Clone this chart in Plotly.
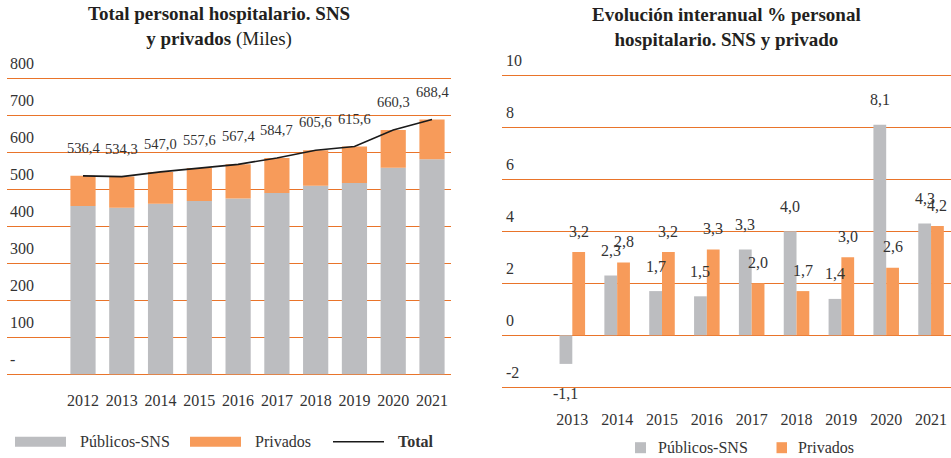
import plotly.graph_objects as go

# ---------------- data ----------------
years_total = ["2012", "2013", "2014", "2015", "2016", "2017", "2018", "2019", "2020", "2021"]
publicos_miles = [454.9, 450.3, 461.0, 468.5, 475.0, 490.0, 509.5, 517.0, 558.5, 581.5]
privados_miles = [81.5, 84.0, 86.0, 89.1, 92.4, 94.7, 96.1, 98.6, 101.8, 106.9]
total_miles = [536.4, 534.3, 547.0, 557.6, 567.4, 584.7, 605.6, 615.6, 660.3, 688.4]
left_ticks = [0, 100, 200, 300, 400, 500, 600, 700, 800]
left_ticktext = ["-", "100", "200", "300", "400", "500", "600", "700", "800"]

years_var = ["2013", "2014", "2015", "2016", "2017", "2018", "2019", "2020", "2021"]
var_publicos = [-1.1, 2.3, 1.7, 1.5, 3.3, 4.0, 1.4, 8.1, 4.3]
var_privados = [3.2, 2.8, 3.2, 3.3, 2.0, 1.7, 3.0, 2.6, 4.2]
right_ticks = [-2, 0, 2, 4, 6, 8, 10]
right_ticktext = ["-2", "0", "2", "4", "6", "8", "10"]

# ---------------- style ----------------
W, H = 951, 458
GRAY = "#BCBDC0"
ORANGE = "#F79B5A"
GRID = "#E9742A"
TXT = "#333333"
FONT = "Liberation Serif"


def fmt(v):
    return f"{v:.1f}".replace(".", ",")


def px_x(p):
    return p / W


def px_y(p):
    return 1 - p / H


pos_total = list(range(len(years_total)))
pos_var = list(range(len(years_var)))

fig = go.Figure()

# ---- left chart: stacked bars + total line ----
LW = 0.65
fig.add_trace(go.Bar(x=pos_total, y=publicos_miles, width=LW, offset=-LW / 2,
                     marker=dict(color=GRAY, line=dict(width=0)), name="Públicos-SNS",
                     xaxis="x", yaxis="y", showlegend=False))
fig.add_trace(go.Bar(x=pos_total, y=privados_miles, base=publicos_miles, width=LW, offset=-LW / 2,
                     marker=dict(color=ORANGE, line=dict(width=0)), name="Privados",
                     xaxis="x", yaxis="y", showlegend=False))
fig.add_trace(go.Scatter(x=pos_total, y=total_miles, mode="lines",
                         line=dict(color="#1a1a1a", width=1.6), name="Total",
                         xaxis="x", yaxis="y", showlegend=False))

# ---- right chart: grouped bars ----
RW = 0.285
fig.add_trace(go.Bar(x=pos_var, y=var_publicos, width=RW, offset=-RW,
                     marker=dict(color=GRAY, line=dict(width=0)), name="Públicos-SNS",
                     xaxis="x2", yaxis="y2", showlegend=False))
fig.add_trace(go.Bar(x=pos_var, y=var_privados, width=RW, offset=0,
                     marker=dict(color=ORANGE, line=dict(width=0)), name="Privados",
                     xaxis="x2", yaxis="y2", showlegend=False))

annotations = []
tickfont = dict(family=FONT, size=16, color=TXT)

# left value labels
for i, v in zip(pos_total, total_miles):
    annotations.append(dict(x=i, y=v, xref="x", yref="y", text=fmt(v), showarrow=False,
                            yshift=28, yanchor="middle",
                            font=dict(family=FONT, size=14.5, color=TXT)))

# right value labels
for i, v in zip(pos_var, var_publicos):
    annotations.append(dict(x=i - RW / 2, y=v, xref="x2", yref="y2", text=fmt(v), showarrow=False,
                            yshift=25 if v >= 0 else -30, yanchor="middle",
                            font=dict(family=FONT, size=16, color=TXT)))
for i, v in zip(pos_var, var_privados):
    annotations.append(dict(x=i + RW / 2, y=v, xref="x2", yref="y2", text=fmt(v), showarrow=False,
                            yshift=21 if v >= 0 else -30, yanchor="middle",
                            font=dict(family=FONT, size=16, color=TXT)))

# y tick labels (sitting above their gridlines, inside the plot)
for v, t in zip(left_ticks, left_ticktext):
    annotations.append(dict(x=px_x(8), y=v, xref="paper", yref="y", text=t, showarrow=False,
                            xanchor="left", yanchor="middle", yshift=15, font=tickfont))
for v, t in zip(right_ticks, right_ticktext):
    annotations.append(dict(x=px_x(504), y=v, xref="paper", yref="y2", text=t, showarrow=False,
                            xanchor="left", yanchor="middle", yshift=14.5, font=tickfont))

# titles
annotations.append(dict(x=px_x(219), y=px_y(27), xref="paper", yref="paper", showarrow=False,
                        text="<b>Total personal hospitalario. SNS</b><br><b>y privados</b> (Miles)",
                        align="center", xanchor="center", yanchor="middle",
                        font=dict(family=FONT, size=19, color="#231f20")))
annotations.append(dict(x=px_x(726.5), y=px_y(27), xref="paper", yref="paper", showarrow=False,
                        text="<b>Evolución interanual % personal</b><br><b>hospitalario. SNS y privado</b>",
                        align="center", xanchor="center", yanchor="middle",
                        font=dict(family=FONT, size=19, color="#231f20")))

# manual legends
shapes = []
leg_font = dict(family=FONT, size=16, color=TXT)
ly = 441.7
shapes.append(dict(type="rect", xref="paper", yref="paper", x0=px_x(15), x1=px_x(66),
                   y0=px_y(ly + 5), y1=px_y(ly - 5), fillcolor=GRAY, line=dict(width=0)))
annotations.append(dict(x=px_x(78), y=px_y(ly), xref="paper", yref="paper", showarrow=False,
                        text="Públicos-SNS", xanchor="left", yanchor="middle", font=leg_font))
shapes.append(dict(type="rect", xref="paper", yref="paper", x0=px_x(190), x1=px_x(241),
                   y0=px_y(ly + 5), y1=px_y(ly - 5), fillcolor=ORANGE, line=dict(width=0)))
annotations.append(dict(x=px_x(253), y=px_y(ly), xref="paper", yref="paper", showarrow=False,
                        text="Privados", xanchor="left", yanchor="middle", font=leg_font))
shapes.append(dict(type="line", xref="paper", yref="paper", x0=px_x(333), x1=px_x(384),
                   y0=px_y(ly), y1=px_y(ly), line=dict(color="#1a1a1a", width=1.5)))
annotations.append(dict(x=px_x(396), y=px_y(ly), xref="paper", yref="paper", showarrow=False,
                        text="<b>Total</b>", xanchor="left", yanchor="middle", font=leg_font))

ry = 447.7
shapes.append(dict(type="rect", xref="paper", yref="paper", x0=px_x(635), x1=px_x(646),
                   y0=px_y(ry + 5.5), y1=px_y(ry - 5.5), fillcolor=GRAY, line=dict(width=0)))
annotations.append(dict(x=px_x(656), y=px_y(ry), xref="paper", yref="paper", showarrow=False,
                        text="Públicos-SNS", xanchor="left", yanchor="middle", font=leg_font))
shapes.append(dict(type="rect", xref="paper", yref="paper", x0=px_x(776.5), x1=px_x(787),
                   y0=px_y(ry + 5.5), y1=px_y(ry - 5.5), fillcolor=ORANGE, line=dict(width=0)))
annotations.append(dict(x=px_x(796), y=px_y(ry), xref="paper", yref="paper", showarrow=False,
                        text="Privados", xanchor="left", yanchor="middle", font=leg_font))

# axis ranges padded a little so edge gridlines are drawn
L_PX = 0.37      # px per unit, left chart
R_PX = 26.0      # px per unit, right chart
L_PAD = 7.0
R_PAD = 0.1

fig.update_layout(
    width=W, height=H,
    margin=dict(l=0, r=0, t=0, b=0),
    paper_bgcolor="white", plot_bgcolor="white",
    barmode="group",
    showlegend=False,
    annotations=annotations,
    shapes=shapes,
    xaxis=dict(domain=[px_x(7), px_x(451)], range=[-1.96, 9.49],
               tickvals=pos_total, ticktext=years_total,
               showgrid=False, zeroline=False, showline=False, ticks="",
               ticklabelstandoff=12, tickfont=tickfont, fixedrange=True),
    yaxis=dict(domain=[px_y(374.3 + L_PAD * L_PX), px_y(78.3 - L_PAD * L_PX)],
               range=[-L_PAD, 800 + L_PAD], tickvals=left_ticks, showticklabels=False,
               showgrid=True, gridcolor=GRID, gridwidth=1.2,
               zeroline=False, showline=False, ticks="", fixedrange=True),
    xaxis2=dict(domain=[px_x(502), 1.0], range=[-1.568, 8.445],
                tickvals=pos_var, ticktext=years_var,
                anchor="y2", showgrid=False, zeroline=False, showline=False, ticks="",
                ticklabelstandoff=18, tickfont=tickfont, fixedrange=True),
    yaxis2=dict(domain=[px_y(387.3 + R_PAD * R_PX), px_y(75.3 - R_PAD * R_PX)],
                range=[-2 - R_PAD, 10 + R_PAD], anchor="x2",
                tickvals=right_ticks, showticklabels=False, showgrid=True,
                gridcolor=GRID, gridwidth=1.2, zeroline=False, showline=False, ticks="",
                fixedrange=True),
)

fig.write_html("out.html", config={"displayModeBar": False},
               post_script="document.body.style.margin='0';")
